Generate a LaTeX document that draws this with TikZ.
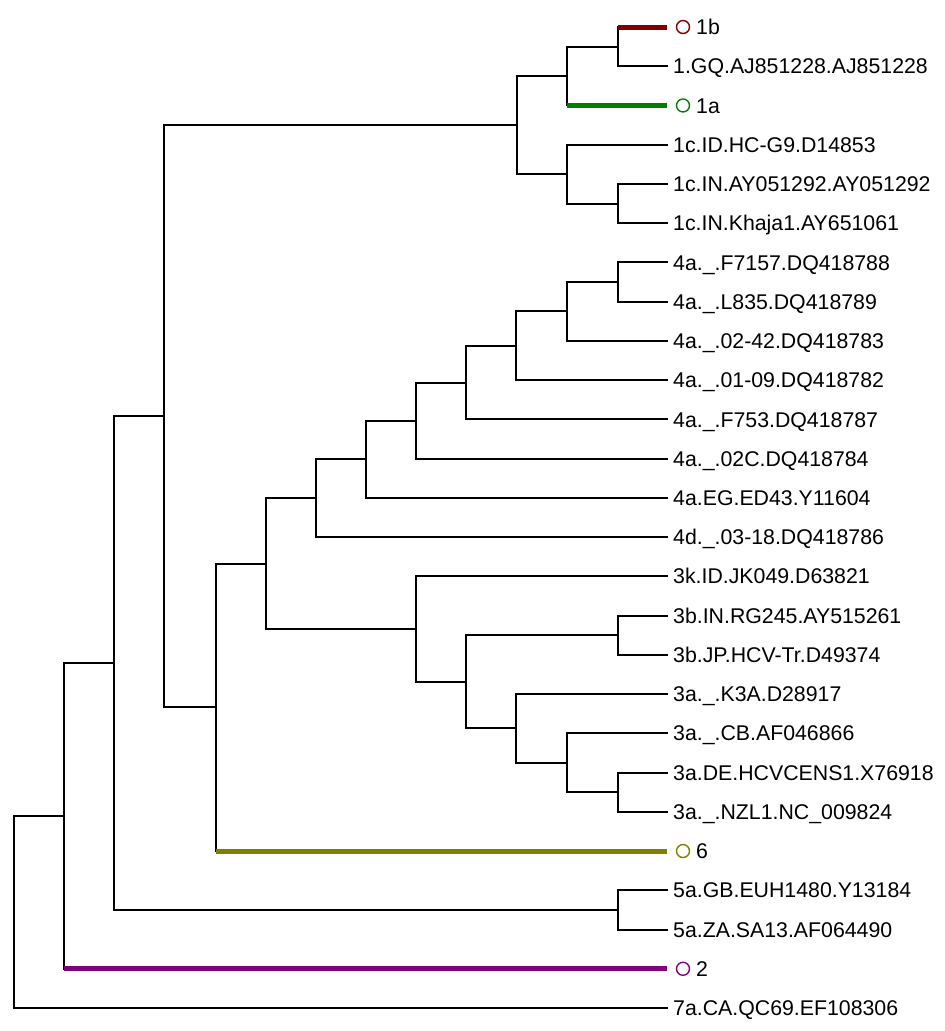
\documentclass[tikz,border=0pt]{standalone}
\usepackage{fontspec}
\setmainfont{Liberation Sans}
\begin{document}
\begin{tikzpicture}[x=1pt,y=-1pt,
  br/.style={line width=2pt,black,line cap=rect},
  cbr/.style={line width=5pt},
  lab/.style={anchor=base west,inner sep=0pt,font=\fontsize{21.3}{25}\selectfont},
  ring/.style={draw,circle,minimum size=13pt,inner sep=0pt,line width=1.4pt}]
\useasboundingbox (0,0) rectangle (945,1031);
\definecolor{c1b}{RGB}{128,0,0}
\definecolor{c1a}{RGB}{0,128,0}
\definecolor{c6}{RGB}{128,128,0}
\definecolor{c2}{RGB}{128,0,128}
% leaf tips
\foreach \n/\y in {t0/27,t1/66.24,t2/105.48,t3/144.72,t4/183.96,t5/223.2,t6/262.44,t7/301.68,t8/340.92,t9/380.16,t10/419.4,t11/458.64,t12/497.88,t13/537.12,t14/576.36,t15/615.6,t16/654.84,t17/694.08,t18/733.32,t19/772.56,t20/811.8,t21/851.04,t22/890.28,t23/929.52,t24/968.76,t25/1008}
  \coordinate (\n) at (667,\y);
% internal nodes
\coordinate (n1b) at (618,46.62);
\coordinate (n1ab) at (567,76.05);
\coordinate (n1c2) at (618,203.58);
\coordinate (n1c) at (567,174.15);
\coordinate (n1) at (517,125.1);
\coordinate (n4a) at (618,282.06);
\coordinate (n4b) at (567,311.49);
\coordinate (n4c) at (516,345.83);
\coordinate (n4d) at (466,382.61);
\coordinate (n4e) at (416,420.63);
\coordinate (n4f) at (366,459.25);
\coordinate (n4) at (316,498.19);
\coordinate (n3b) at (618,635.22);
\coordinate (n3a3) at (618,792.18);
\coordinate (n3a2) at (567,762.75);
\coordinate (n3a) at (516,728.42);
\coordinate (n3ab) at (466,681.82);
\coordinate (n3) at (416,629.09);
\coordinate (n34) at (266,563.64);
\coordinate (n346) at (216,707.34);
\coordinate (n1346) at (164,416.22);
\coordinate (n5) at (618,909.9);
\coordinate (n13456) at (114,663.06);
\coordinate (nA) at (64,815.91);
\coordinate (root) at (14,911.96);
% black branches
\foreach \p/\c in {n1b/t1,n1ab/n1b,n1c2/t4,n1c2/t5,n1c/t3,n1c/n1c2,n1/n1ab,n1/n1c,
  n4a/t6,n4a/t7,n4b/n4a,n4b/t8,n4c/n4b,n4c/t9,n4d/n4c,n4d/t10,n4e/n4d,n4e/t11,n4f/n4e,n4f/t12,n4/n4f,n4/t13,
  n3b/t15,n3b/t16,n3a3/t19,n3a3/t20,n3a2/t18,n3a2/n3a3,n3a/t17,n3a/n3a2,n3ab/n3b,n3ab/n3a,n3/t14,n3/n3ab,
  n34/n4,n34/n3,n1346/n1,n1346/n346,n5/t22,n5/t23,n13456/n1346,n13456/n5,nA/n13456,root/nA,root/t25}
  \draw[br] (\p) |- (\c);
% vertical parts of nodes with coloured children
\draw[br] (n1b) -- (n1b |- t0);
\draw[br] (n1ab) -- (n1ab |- t2);
\draw[br] (n346) -- (n346 |- n34) -| (n34);
\draw[br] (n346) -- (n346 |- t21);
\draw[br] (nA) -- (nA |- t24);
% coloured branches
\draw[cbr,c1b] (n1b |- t0) -- (t0);
\draw[cbr,c1a] (n1ab |- t2) -- (t2);
\draw[cbr,c6] (n346 |- t21) -- (t21);
\draw[cbr,c2] (nA |- t24) -- (t24);
% rings
\node[ring,draw=c1b] (r1b) at (683,27) {};
\node[ring,draw=c1a] (r1a) at (683,105.48) {};
\node[ring,draw=c6] (r6) at (683,851.04) {};
\node[ring,draw=c2] (r2) at (683,968.76) {};
% labels
\node[lab] (l0) at (696,34.6) {1b};
\node[lab] (l2) at (696,113.08) {1a};
\node[lab] (l21) at (696,858.64) {6};
\node[lab] (l24) at (696,976.36) {2};
\foreach \n/\y/\t in {l1/66.24/1.GQ.AJ851228.AJ851228,
  l3/144.72/1c.ID.HC-G9.D14853,
  l4/183.96/1c.IN.AY051292.AY051292,
  l5/223.2/1c.IN.Khaja1.AY651061,
  l6/262.44/4a.\_.F7157.DQ418788,
  l7/301.68/4a.\_.L835.DQ418789,
  l8/340.92/4a.\_.02-42.DQ418783,
  l9/380.16/4a.\_.01-09.DQ418782,
  l10/419.4/4a.\_.F753.DQ418787,
  l11/458.64/4a.\_.02C.DQ418784,
  l12/497.88/4a.EG.ED43.Y11604,
  l13/537.12/4d.\_.03-18.DQ418786,
  l14/576.36/3k.ID.JK049.D63821,
  l15/615.6/3b.IN.RG245.AY515261,
  l16/654.84/3b.JP.HCV-Tr.D49374,
  l17/694.08/3a.\_.K3A.D28917,
  l18/733.32/3a.\_.CB.AF046866,
  l19/772.56/3a.DE.HCVCENS1.X76918,
  l20/811.8/3a.\_.NZL1.NC\_009824,
  l22/890.28/5a.GB.EUH1480.Y13184,
  l23/929.52/5a.ZA.SA13.AF064490,
  l25/1008/7a.CA.QC69.EF108306}
  \node[lab] (\n) at (673,\y+7.6) {\t};
\end{tikzpicture}
\end{document}
